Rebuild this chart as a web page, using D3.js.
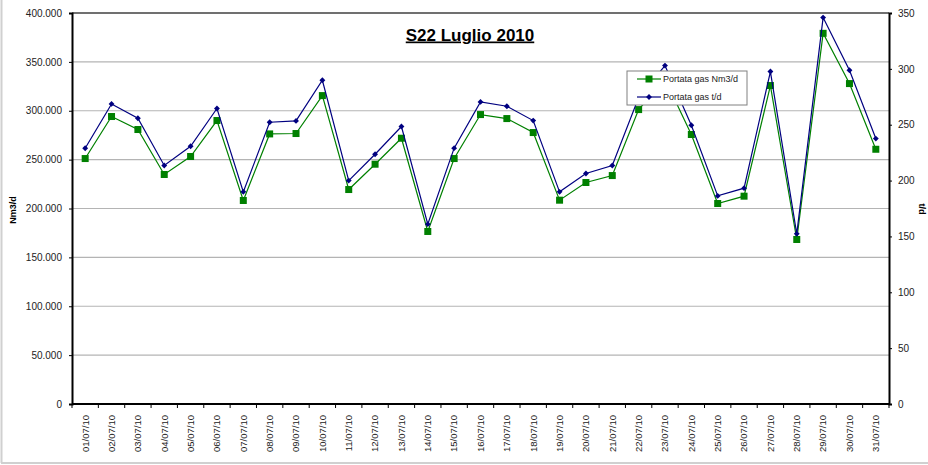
<!DOCTYPE html>
<html><head><meta charset="utf-8">
<script src="https://cdn.jsdelivr.net/npm/d3@7"></script>
<style>body{margin:0;background:#fff}svg{display:block;font-family:"Liberation Sans",Arial,sans-serif}</style>
</head><body><svg id="c" width="928" height="465"></svg>
<script>
const categories = ["01/07/10","02/07/10","03/07/10","04/07/10","05/07/10","06/07/10","07/07/10","08/07/10","09/07/10","10/07/10","11/07/10","12/07/10","13/07/10","14/07/10","15/07/10","16/07/10","17/07/10","18/07/10","19/07/10","20/07/10","21/07/10","22/07/10","23/07/10","24/07/10","25/07/10","26/07/10","27/07/10","28/07/10","29/07/10","30/07/10","31/07/10"];
const portataNm3 = [251100,294100,280800,234800,253200,290000,208200,276300,276700,315500,219400,245300,271900,176500,251100,296100,292000,277700,208500,226600,233700,301200,332500,275700,205100,212600,325800,168300,379200,327800,260600];
const portataTd = [228.9,268.6,255.8,213.5,230.7,264.5,189.9,252.2,253.4,289.8,200.0,223.6,248.4,161.0,229.0,270.4,266.5,253.7,189.9,206.3,213.5,274.4,302.9,249.5,186.3,193.2,297.6,152.3,345.9,298.7,237.6];
const leftTicks = [0,50000,100000,150000,200000,250000,300000,350000,400000];
const rightTicks = [0,50,100,150,200,250,300,350];
const title = "S22 Luglio 2010";
const seriesNames = ["Portata gas Nm3/d","Portata gas t/d"];

const svg = d3.select("#c");
const L=72, R=889, T=13, B=404;
const x = d3.scaleBand().domain(categories).range([L,R]);
const yL = d3.scaleLinear().domain([0,400000]).range([B,T]);
const yR = d3.scaleLinear().domain([0,350]).range([B,T]);
const it = d3.formatLocale({decimal:",",thousands:".",grouping:[3],currency:["€",""]}).format(",.0f");

// outer frame
svg.append("line").attr("x1",1.5).attr("x2",1.5).attr("y1",0).attr("y2",463).attr("stroke","#d0d0d0").attr("stroke-width",2);
svg.append("line").attr("x1",1).attr("x2",928).attr("y1",463).attr("y2",463).attr("stroke","#d0d0d0").attr("stroke-width",2);

// gridlines
svg.append("g").selectAll("line").data(leftTicks.filter(d=>d>0&&d<400000)).join("line")
  .attr("x1",L).attr("x2",R).attr("y1",d=>yL(d)).attr("y2",d=>yL(d))
  .attr("stroke","#b4b4b4").attr("stroke-width",1.2);
// top border
svg.append("line").attr("x1",L).attr("x2",R).attr("y1",T).attr("y2",T).attr("stroke","#707070").attr("stroke-width",2);

// axes
const gL = svg.append("g").attr("transform",`translate(${L},0)`)
  .call(d3.axisLeft(yL).tickValues(leftTicks).tickFormat(d=>d===0?"0":it(d)).tickSize(3).tickPadding(7));
const gR = svg.append("g").attr("transform",`translate(${R},0)`)
  .call(d3.axisRight(yR).tickValues(rightTicks).tickSize(3).tickPadding(6));
const gB = svg.append("g").attr("transform",`translate(0,${B})`)
  .call(d3.axisBottom(x).tickSize(0).tickFormat(d=>d));
[gL,gR,gB].forEach(g=>{
  g.select(".domain").attr("stroke","#000").attr("stroke-width",2);
  g.selectAll(".tick line").attr("stroke","#000");
  g.selectAll("text").attr("fill","#222").style("font-family","'Liberation Sans',Arial,sans-serif");
});
gL.selectAll("text").attr("font-size",10);
gR.selectAll("text").attr("font-size",10);
gB.select(".domain").attr("d",`M${L},0H${R}`);
gB.selectAll(".tick text").attr("font-size",9.5).attr("text-anchor","end")
  .attr("transform","rotate(-90)").attr("x",-11).attr("y",0).attr("dy","0.35em");
// category boundary ticks
svg.append("g").selectAll("line").data(d3.range(categories.length+1)).join("line")
  .attr("x1",i=>L+i*x.step()).attr("x2",i=>L+i*x.step()).attr("y1",B).attr("y2",B+4)
  .attr("stroke","#000").attr("stroke-width",1);

// series
const cx = d=>x(d)+x.bandwidth()/2;
const lineG = d3.line().x((d,i)=>cx(categories[i])).y(d=>yL(d));
const lineB = d3.line().x((d,i)=>cx(categories[i])).y(d=>yR(d));
svg.append("path").datum(portataNm3).attr("d",lineG).attr("fill","none").attr("stroke","#008000").attr("stroke-width",1.2);
svg.append("g").selectAll("rect").data(portataNm3).join("rect")
  .attr("x",(d,i)=>cx(categories[i])-3.5).attr("y",d=>yL(d)-3.5).attr("width",7).attr("height",7).attr("fill","#008000");
svg.append("path").datum(portataTd).attr("d",lineB).attr("fill","none").attr("stroke","#000080").attr("stroke-width",1.2);
const diamond = d3.symbol().type(d3.symbolDiamond2).size(22);
svg.append("g").selectAll("path").data(portataTd).join("path")
  .attr("transform",(d,i)=>`translate(${cx(categories[i])},${yR(d)})`).attr("d",diamond).attr("fill","#000080");

// title
svg.append("text").attr("x",470).attr("y",40.5).attr("text-anchor","middle").attr("font-size",17)
  .attr("font-weight","bold").attr("text-decoration","underline").attr("fill","#000").text(title);

// axis titles
svg.append("text").attr("transform","translate(16,210) rotate(-90)").attr("text-anchor","middle")
  .attr("font-size",9).attr("font-weight","bold").text("Nm3/d");
svg.append("text").attr("transform","translate(919,209) rotate(90)").attr("text-anchor","middle")
  .attr("font-size",9).attr("font-weight","bold").text("t/d");

// legend
const lg = svg.append("g");
lg.append("rect").attr("x",627).attr("y",71).attr("width",120).attr("height",34).attr("fill","#fff").attr("stroke","#808080").attr("stroke-width",1);
const legY=[79,97], cols=["#008000","#000080"];
seriesNames.forEach((n,i)=>{
  lg.append("line").attr("x1",637).attr("x2",661).attr("y1",legY[i]).attr("y2",legY[i]).attr("stroke",cols[i]).attr("stroke-width",1.2);
  if(i===0) lg.append("rect").attr("x",645.5).attr("y",legY[i]-3.5).attr("width",7).attr("height",7).attr("fill",cols[i]);
  else lg.append("path").attr("transform",`translate(649,${legY[i]})`).attr("d",diamond).attr("fill",cols[i]);
  lg.append("text").attr("x",663).attr("y",legY[i]).attr("dy","0.35em").attr("font-size",9).attr("fill","#222").text(n);
});
</script></body></html>
